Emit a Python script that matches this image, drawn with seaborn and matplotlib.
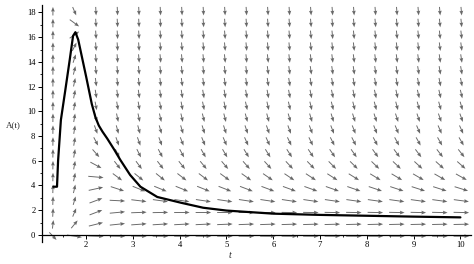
import numpy as np
import pandas as pd
import seaborn as sns
import matplotlib
matplotlib.use("Agg")
import matplotlib.pyplot as plt

# ---- data ----
curve_t = [1.30, 1.377, 1.40, 1.46, 1.55, 1.65, 1.72, 1.77, 1.83, 2.00, 2.12,
           2.20, 2.27, 2.35, 2.45, 2.60, 2.73, 2.94, 3.16, 3.52, 4.03, 4.50,
           5.00, 6.00, 7.00, 8.00, 9.00, 10.00]
curve_A = [3.9, 3.9, 6.0, 9.3, 11.6, 14.2, 16.1, 16.4, 15.8, 12.8, 10.6,
           9.5, 8.85, 8.35, 7.8, 6.9, 6.07, 4.85, 3.9, 3.07, 2.6, 2.2,
           1.97, 1.72, 1.62, 1.55, 1.48, 1.42]
x_ticks = [2, 3, 4, 5, 6, 7, 8, 9, 10]
y_ticks = [0, 2, 4, 6, 8, 10, 12, 14, 16, 18]
t_range = (1.06, 10.25)
A_range = (-0.58, 18.58)
n_arrows = 20

# direction field dA/dt = f(t, A) (logistic-type model matched to the arrows)
def slope(t, A):
    E = 1.23 + 2.67 / t + 13.3 * np.exp(-4.2 * (t - 1.76))
    c = 0.45 / np.sqrt(t)
    return c * A * (E - A)

sns.set_theme(style="white")
plt.rcParams['font.family'] = ['Liberation Serif', 'DejaVu Serif']

fig = plt.figure(figsize=(4.74, 2.64), dpi=100)
ax = fig.add_axes([0.088, 0.083, 0.906, 0.898])

dt = (t_range[1] - t_range[0]) / n_arrows
dA = (A_range[1] - A_range[0]) / n_arrows
tc = t_range[0] + (np.arange(n_arrows) + 0.5) * dt
Ac = A_range[0] + (np.arange(n_arrows) + 0.5) * dA
T, A = np.meshgrid(tc, Ac)
F = slope(T, A)
u = np.full_like(F, 1.0 / dt)
v = F / dA
nrm = np.hypot(u, v)
frac = 0.72
U = frac * dt * u / nrm
V = frac * dA * v / nrm
ax.quiver(T, A, U, V, angles='xy', scale_units='xy', scale=1, pivot='middle',
          color='#686868', width=0.0022, headwidth=4, headlength=5,
          headaxislength=4.5, zorder=2)

df = pd.DataFrame({"t": curve_t, "A": curve_A})
sns.lineplot(data=df, x="t", y="A", sort=False, estimator=None,
             color='black', lw=1.6, ax=ax, zorder=3)

ax.set_xlim(1.05, 10.23)
ax.set_ylim(-0.58, 18.6)
ax.set_xlabel("")
ax.set_ylabel("")
for s in ['top', 'right']:
    ax.spines[s].set_visible(False)
ax.spines['bottom'].set_position(('data', 0))
ax.spines['left'].set_position(('data', 1.05))
for s in ['bottom', 'left']:
    ax.spines[s].set_color('black')
    ax.spines[s].set_linewidth(0.9)

ax.set_xticks(x_ticks)
ax.set_yticks(y_ticks)
ax.set_xticks(np.arange(1.5, 10.3, 0.5), minor=True)
ax.set_yticks(np.arange(1, 18.6, 1), minor=True)
ax.tick_params(axis='both', which='major', direction='out', length=3,
               width=0.7, labelsize=6.2, colors='black', pad=1.5)
ax.tick_params(axis='both', which='minor', direction='out', length=1.5,
               width=0.6, colors='black')
ax.tick_params(axis='x', which='both', bottom=True)
ax.tick_params(axis='y', which='both', left=True)

fig.text(13 / 474, 1 - 125 / 264, "A(t)", fontsize=6.5, ha='center', va='center')
fig.text(230 / 474, 1 - 256 / 264, "t", fontsize=7, style='italic',
         ha='center', va='center')

fig.savefig("out.png", dpi=100, facecolor='white')
